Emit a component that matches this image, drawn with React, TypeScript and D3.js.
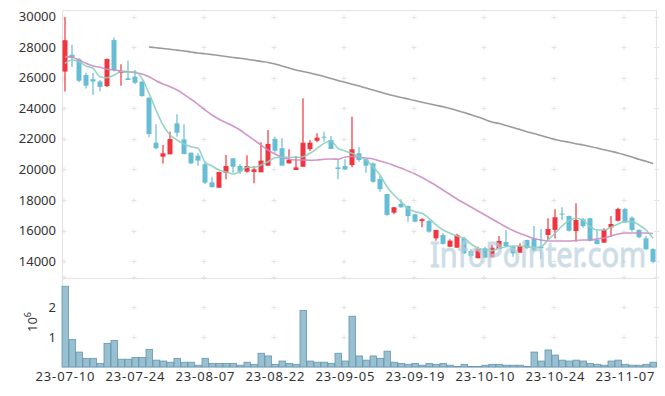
import React from "react";
import * as d3 from "d3";

const opens = [
  26400, 27500, 27200, 26180, 25900, 25750, 25450, 28460, 26300, 25960,
  26070, 25740, 24690, 21750, 20840, 20990, 23020, 21970, 21100, 20900,
  20340, 19160, 18810, 19790, 20730, 20230, 19860, 19840, 19820, 20250,
  21990, 21390, 20400, 19970, 20180, 21340, 21880, 22140, 21930, 20140,
  20230, 20290, 21060, 20670, 20400, 19380, 18400, 17180, 17750, 17610,
  17070, 16630, 16630, 15500, 15720, 14950, 14890, 15500, 14670, 14200,
  14850, 14260, 14800, 15260, 14950, 14560, 15390, 15460, 14950, 15720,
  16050, 17120, 16960, 15980, 16750, 16810, 15390, 15220, 16220, 16650,
  17420, 16850, 16050, 15500, 14800,
];
const highs = [
  29950, 28150, 27270, 26330, 26330, 25850, 27250, 28620, 26880, 27110,
  26500, 25800, 24700, 22950, 21600, 22470, 23610, 22950, 21100, 21060,
  20500, 19530, 19850, 20950, 20750, 20360, 20930, 20230, 21780, 22580,
  22140, 22040, 21320, 20880, 24650, 21930, 22370, 22470, 22190, 20620,
  20670, 23450, 21450, 20700, 20450, 19580, 18400, 17550, 18050, 17650,
  17100, 16810, 16700, 16050, 15830, 15440, 15800, 15600, 14780, 14950,
  14950, 15070, 15650, 16050, 15000, 15180, 15400, 16310, 16110, 16810,
  17400, 17530, 17000, 17790, 16850, 16850, 16050, 16160, 16960, 17500,
  17500, 16920, 16100, 15650, 14850,
];
const lows = [
  25100, 26700, 25700, 25300, 24870, 25100, 25400, 26400, 25480, 25850,
  25590, 24750, 22100, 21320, 20400, 20990, 22140, 20990, 20360, 20250,
  19050, 18840, 18810, 19360, 19790, 19700, 19790, 19100, 19820, 20250,
  21100, 20250, 20400, 19970, 20180, 21210, 21780, 21820, 21340, 19360,
  19970, 20140, 20510, 19790, 19140, 18550, 16980, 17070, 17500, 16590,
  16550, 16220, 15870, 15350, 15100, 14950, 14880, 14480, 14300, 14200,
  14190, 14260, 14800, 14950, 14300, 14560, 14780, 14630, 14150, 15390,
  15500, 16700, 15950, 15280, 16200, 15300, 15100, 15220, 15610, 16600,
  16500, 15940, 15500, 14750, 13870,
];
const closes = [
  28450, 27300, 25800, 25480, 25750, 25400, 27220, 26500, 26440, 25850,
  25670, 24800, 22320, 21390, 21060, 21990, 22400, 21010, 20400, 20580,
  19140, 18840, 19840, 20230, 20180, 19860, 20230, 20010, 20580, 21670,
  21230, 20250, 20620, 20140, 21750, 21750, 22080, 22080, 21340, 20030,
  20010, 21320, 20620, 20250, 19200, 18710, 17030, 17530, 17530, 16960,
  16590, 16750, 15940, 16050, 15130, 15350, 15720, 14520, 14350, 14850,
  14240, 14890, 15330, 15000, 14520, 15000, 14870, 14690, 14850, 16110,
  16880, 17060, 16000, 16700, 16300, 15350, 15130, 16050, 16440, 17420,
  16550, 16050, 15570, 14780, 13970,
];
// volume in millions of shares
const volumes = [
  2.70, 0.92, 0.50, 0.29, 0.29, 0.12, 0.79, 0.89, 0.26, 0.26,
  0.32, 0.32, 0.59, 0.23, 0.20, 0.16, 0.29, 0.16, 0.16, 0.06,
  0.29, 0.12, 0.12, 0.12, 0.12, 0.06, 0.16, 0.09, 0.46, 0.37,
  0.09, 0.20, 0.12, 0.09, 1.89, 0.20, 0.16, 0.16, 0.12, 0.46,
  0.20, 1.70, 0.37, 0.23, 0.37, 0.29, 0.53, 0.16, 0.12, 0.09,
  0.12, 0.06, 0.12, 0.09, 0.12, 0.06, 0.02, 0.09, 0.02, 0.02,
  0.06, 0.09, 0.09, 0.06, 0.06, 0.06, 0.02, 0.50, 0.20, 0.57,
  0.40, 0.23, 0.20, 0.23, 0.20, 0.12, 0.09, 0.06, 0.20, 0.23,
  0.09, 0.06, 0.06, 0.09, 0.16,
];
const ma5 = [
  26940, 27160, 27045, 26765, 26615, 26065, 26000, 26175, 26390, 26355,
  26390, 25960, 24980, 23890, 22910, 22255, 21930, 21665, 21490, 21385,
  20490, 20230, 19965, 19835, 19705, 19855, 20145, 20145, 20295, 20510,
  20770, 20800, 20800, 20800, 20835, 21060, 21385, 21710, 21865, 21385,
  21210, 21060, 20835, 20620, 20185, 19640, 18875, 18335, 17895, 17465,
  17240, 17135, 16810, 16375, 16045, 15830, 15655, 15505, 15130, 14850,
  14740, 14695, 14850, 14955, 15000, 15000, 14955, 14915, 14955, 15390,
  15830, 16305, 16655, 16810, 16700, 16260, 16045, 16045, 16220, 16440,
  16590, 16590, 16375, 16045, 15505,
];
const ma20 = [
  27375, 27335, 27155, 26940, 26765, 26680, 26550, 26505, 26440, 26390,
  26325, 26240, 26065, 25805, 25590, 25410, 25195, 24915, 24590, 24260,
  23890, 23560, 23280, 23060, 22845, 22580, 22255, 21930, 21600, 21275,
  21015, 20800, 20665, 20620, 20620, 20600, 20620, 20665, 20685, 20665,
  20815, 20850, 20815, 20750, 20685, 20555, 20425, 20260, 20100, 19900,
  19705, 19475, 19215, 18955, 18660, 18365, 18070, 17810, 17550, 17290,
  17025, 16765, 16505, 16240, 16015, 15815, 15655, 15490, 15390, 15325,
  15325, 15325, 15325, 15360, 15390, 15390, 15460, 15525, 15655, 15785,
  15850, 15850, 15850, 15850, 15815,
];
const maLong: (number | null)[] = [
  null, null, null, null, null, null, null, null, null, null, null, null,
  28010, 27960, 27910, 27860, 27800, 27745, 27680, 27615, 27570, 27510,
  27450, 27385, 27325, 27270, 27210, 27140, 27065, 26995, 26895, 26765,
  26635, 26505, 26405, 26305, 26195, 26080, 25950, 25815, 25700, 25575,
  25460, 25325, 25195, 25065, 24935, 24815, 24705, 24610, 24510, 24400,
  24295, 24195, 24100, 23985, 23855, 23725, 23575, 23430, 23270, 23105,
  23005, 22875, 22745, 22615, 22465, 22355, 22220, 22090, 21960, 21865,
  21780, 21685, 21600, 21505, 21405, 21295, 21190, 21080, 20950, 20815,
  20665, 20535, 20390,
];
const xTickIndex = [0, 10, 20, 30, 40, 50, 60, 70, 80];
const xTickLabels = [
  "23-07-10", "23-07-24", "23-08-07", "23-08-22", "23-09-05",
  "23-09-19", "23-10-10", "23-10-24", "23-11-07",
];
const priceTicks = [14000, 16000, 18000, 20000, 22000, 24000, 26000, 28000, 30000];
const volTicks = [1, 2];
const volGridTicks = [1, 2, 3];

const W = 665;
const H = 396;
const LEFT = 62;
const RIGHT = 657;
const TOP = 10;
const MID = 278;
const BOTTOM = 367;

const UP = "#f0353f";
const DOWN = "#68bdd6";
const FONT = "'Noto Sans', 'Open Sans', sans-serif";

export default function App() {
  const idx = d3.range(opens.length);
  const x = d3.scaleBand<number>().domain(idx).range([61.5, 656.5]).padding(0);
  const bw = x.bandwidth();
  const cx = (i: number) => (x(i) as number) + bw / 2;
  const y = d3.scaleLinear().domain([12908, 30425]).range([MID, TOP]);
  const yv = d3.scaleLinear().domain([0, 3]).range([BOTTOM, 277.3]);

  const lineGen = d3
    .line<number | null>()
    .defined((d) => d !== null)
    .x((_, i) => cx(i))
    .y((d) => y(d as number))
    .curve(d3.curveMonotoneX);

  const gridXs = [...xTickIndex.map((i) => cx(i) - 1), RIGHT - 0.5];
  const plus = (px: number, py: number, k: string) => (
    <g key={k} stroke="#e4e4e4" strokeWidth={1}>
      <line x1={px - 2.5} x2={px + 2.5} y1={py} y2={py} />
      <line x1={px} x2={px} y1={py - 2.5} y2={py + 2.5} />
    </g>
  );

  return (
    <div style={{ position: "absolute", left: 0, top: 0 }}>
      <svg width={W} height={H} style={{ display: "block", background: "#fff" }}>
        {/* frame */}
        <g stroke="#e3e3e3" strokeWidth={1} fill="none">
          <line x1={LEFT} x2={RIGHT} y1={TOP + 0.5} y2={TOP + 0.5} />
          <line x1={LEFT} x2={RIGHT} y1={MID + 0.5} y2={MID + 0.5} />
          <line x1={LEFT} x2={RIGHT} y1={BOTTOM + 0.5} y2={BOTTOM + 0.5} />
          <line x1={LEFT + 0.5} x2={LEFT + 0.5} y1={TOP} y2={BOTTOM} />
          <line x1={RIGHT - 0.5} x2={RIGHT - 0.5} y1={TOP} y2={BOTTOM} />
        </g>
        {/* grid markers */}
        {priceTicks.map((t) => gridXs.map((gx, j) => plus(gx, Math.round(y(t)) + 0.5, `p${t}-${j}`)))}
        {volGridTicks.map((t) => gridXs.map((gx, j) => plus(gx, Math.round(yv(t)) + 0.5, `v${t}-${j}`)))}

        {/* volume bars */}
        <g>
          {volumes.map((v, i) => (
            <rect
              key={i}
              x={(x(i) as number) + 0.5}
              y={yv(v)}
              width={bw - 0.5}
              height={Math.max(0, BOTTOM - yv(v))}
              fill="#98c0d1"
              stroke="#6396ae"
              strokeWidth={0.8}
            />
          ))}
        </g>

        {/* candles */}
        <g>
          {idx.map((i) => {
            const up = closes[i] >= opens[i];
            const col = up ? UP : DOWN;
            const top = y(Math.max(opens[i], closes[i]));
            const bot = y(Math.min(opens[i], closes[i]));
            return (
              <g key={i}>
                <line x1={cx(i)} x2={cx(i)} y1={y(highs[i])} y2={y(lows[i])} stroke={col} strokeWidth={1.2} />
                <rect x={cx(i) - 2.5} y={top} width={5} height={Math.max(1, bot - top)} fill={col} />
              </g>
            );
          })}
        </g>

        {/* moving averages */}
        <path d={lineGen(maLong) || ""} fill="none" stroke="#9a9a9a" strokeWidth={1.6} />
        <path d={lineGen(ma20) || ""} fill="none" stroke="#cc8cc4" strokeWidth={1.6} opacity={0.9} />
        <path d={lineGen(ma5) || ""} fill="none" stroke="#8dcfbf" strokeWidth={1.6} opacity={0.9} />

        {/* watermark */}
        <g transform="translate(430,267) scale(1,1.2)">
          <text
            x={0}
            y={0}
            fontFamily={FONT}
            fontSize={29}
            fill="#b9d0de"
            stroke="#b9d0de"
            strokeWidth={0.8}
            opacity={0.7}
          >
            InfoPointer.com
          </text>
        </g>

        {/* y labels */}
        <g fontFamily={FONT} fontSize={13} fill="#333" textAnchor="end">
          {priceTicks.map((t) => (
            <text key={t} x={56} y={y(t)} dy="0.35em">
              {t}
            </text>
          ))}
          {volTicks.map((t) => (
            <text key={"v" + t} x={56} y={yv(t)} dy="0.35em">
              {t}
            </text>
          ))}
        </g>
        <text
          transform="translate(37,322) rotate(-90)"
          fontFamily={FONT}
          fontSize={13}
          fill="#333"
          textAnchor="middle"
        >
          10<tspan dy="-6" fontSize={9}>6</tspan>
        </text>

        {/* x labels */}
        <g fontFamily={FONT} fontSize={13} fill="#333" textAnchor="middle">
          {xTickIndex.map((ti, k) => (
            <text key={ti} x={cx(ti)} y={381} textLength={59} lengthAdjust="spacing">
              {xTickLabels[k]}
            </text>
          ))}
        </g>
      </svg>
    </div>
  );
}
